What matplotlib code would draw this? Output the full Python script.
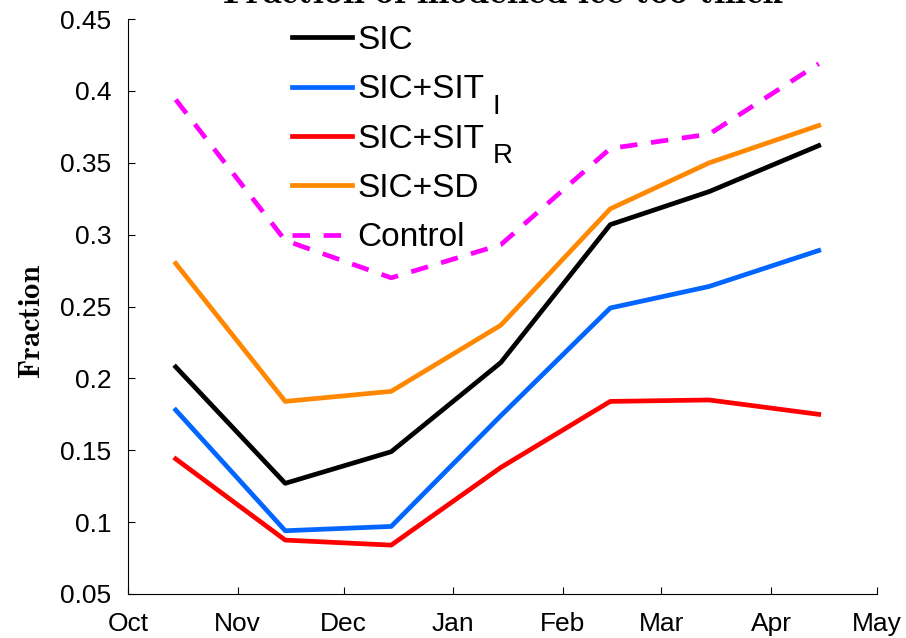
import matplotlib
matplotlib.use("Agg")
import matplotlib.pyplot as plt
import numpy as np

# Month boundaries (days from Oct 1)
month_labels = ["Oct", "Nov", "Dec", "Jan", "Feb", "Mar", "Apr", "May"]
month_days = [31, 30, 31, 31, 28, 31, 30]
month_starts = np.concatenate([[0], np.cumsum(month_days)])
# data at ~mid-month of each month Oct..Apr
data_day = 13.5

sic = [0.208, 0.127, 0.149, 0.211, 0.307, 0.330, 0.362]
sit_i = [0.178, 0.094, 0.097, 0.174, 0.249, 0.264, 0.289]
sit_r = [0.144, 0.0875, 0.084, 0.138, 0.184, 0.185, 0.175]
sd = [0.280, 0.184, 0.191, 0.237, 0.318, 0.350, 0.376]
control = [0.394, 0.296, 0.270, 0.293, 0.360, 0.370, 0.419]

x = month_starts[:7] + data_day

plt.rcParams['font.family'] = ['Liberation Sans', 'DejaVu Sans']
plt.rcParams['mathtext.fontset'] = 'cm'

fig = plt.figure(figsize=(9.06, 6.38), dpi=100)
ax = fig.add_axes([0.1413, 0.069, 0.8267, 0.901])

lw = 3.4
ax.plot(x, sic, color='black', lw=lw, label='SIC')
ax.plot(x, sit_i, color='#0066ff', lw=lw, label='SIC+SIT')
ax.plot(x, sit_r, color='#ff0000', lw=lw, label='SIC+SIT')
ax.plot(x, sd, color='#ff8800', lw=lw, label='SIC+SD')
ax.plot(x, control, color='#ff00ff', lw=lw, ls=(0, (3.7, 2.9)), label='Control')

ax.set_xlim(0, month_starts[-1])
ax.set_ylim(0.05, 0.45)
ax.set_xticks(month_starts)
ax.set_xticklabels(month_labels)
ax.set_yticks(np.arange(0.05, 0.451, 0.05))
ax.set_yticklabels(["0.05", "0.1", "0.15", "0.2", "0.25", "0.3", "0.35", "0.4", "0.45"])
ax.tick_params(direction='in', length=5, width=0.8, labelsize=19)
ax.tick_params(axis='y', pad=12)
ax.tick_params(axis='x', pad=13)
ax.spines['top'].set_visible(False)
ax.spines['right'].set_visible(False)
for s in ['left', 'bottom']:
    ax.spines[s].set_linewidth(0.8)

ax.set_ylabel(r'$\mathbf{Fraction}$', fontsize=22)
ax.yaxis.set_label_coords(-0.108, 0.475)
ax.set_title(r'$\mathbf{Fraction\ of\ modelled\ ice\ too\ thick}$', fontsize=27.5, pad=11.5)

leg = ax.legend(loc='upper left', bbox_to_anchor=(0.219, 0.99), frameon=False, fontsize=24,
                handlelength=1.8, handletextpad=0.15, labelspacing=0.55,
                borderpad=0, borderaxespad=0)

# subscripts for SIT_I and SIT_R, offset as in the reference
texts = leg.get_texts()
for t, sub in [(texts[1], 'I'), (texts[2], 'R')]:
    ax.annotate(sub, xy=(1, 0), xycoords=t, xytext=(6, 8), textcoords='offset points',
                ha='left', va='top', fontsize=20, zorder=10, annotation_clip=False)

fig.savefig('out.png', dpi=100)
